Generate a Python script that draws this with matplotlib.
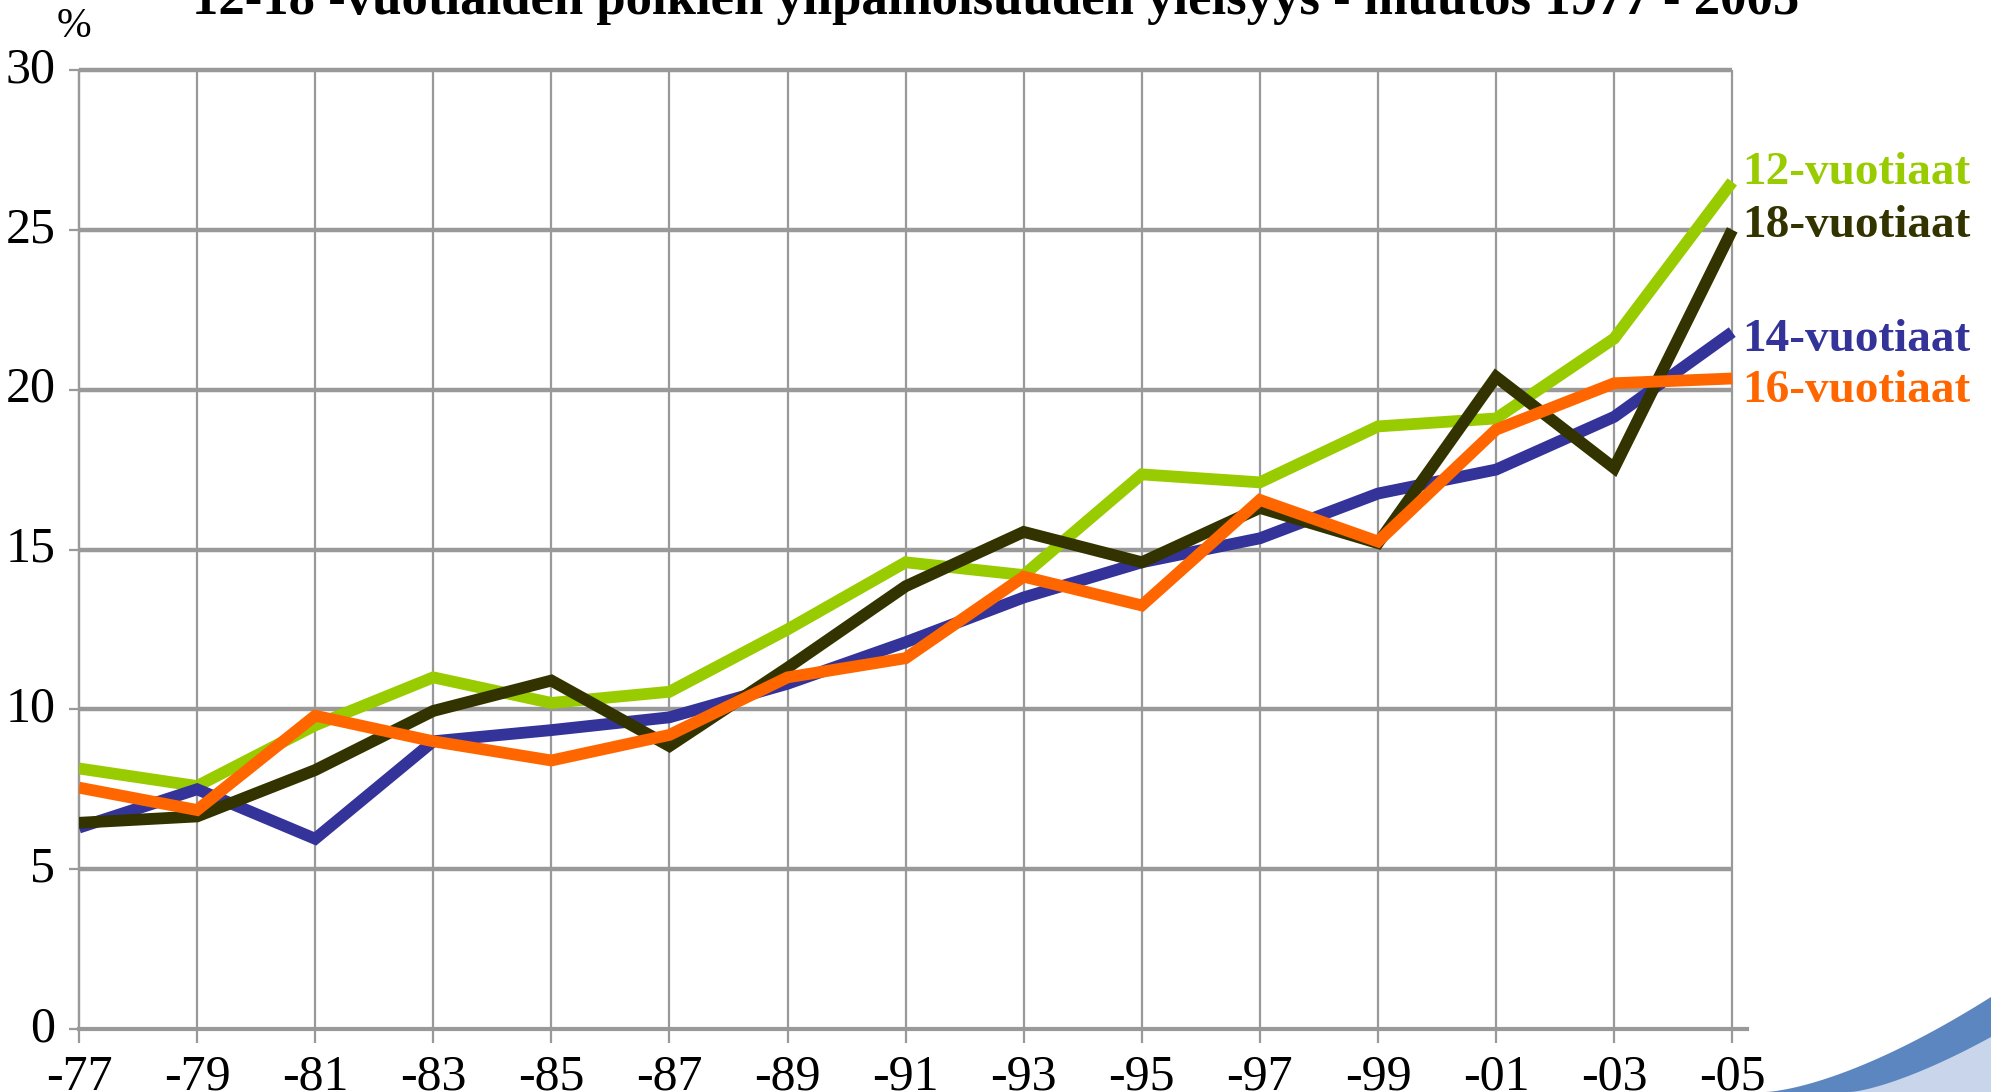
import numpy as np
import matplotlib
matplotlib.use("Agg")
import matplotlib.pyplot as plt
from matplotlib.patches import Polygon

years = [1977, 1979, 1981, 1983, 1985, 1987, 1989, 1991, 1993, 1995, 1997, 1999, 2001, 2003, 2005]
year_labels = ["-77", "-79", "-81", "-83", "-85", "-87", "-89", "-91", "-93", "-95", "-97", "-99", "-01", "-03", "-05"]

v12 = [8.15, 7.6, 9.5, 11.0, 10.2, 10.55, 12.5, 14.6, 14.2, 17.35, 17.1, 18.85, 19.1, 21.6, 26.5]
v14 = [6.3, 7.5, 5.95, 9.0, 9.35, 9.75, 10.8, 12.1, 13.5, 14.6, 15.35, 16.75, 17.5, 19.15, 21.8]
v16 = [7.55, 6.85, 9.8, 9.0, 8.4, 9.2, 11.0, 11.6, 14.15, 13.25, 16.55, 15.25, 18.75, 20.2, 20.35]
v18 = [6.45, 6.65, 8.1, 9.95, 10.9, 8.85, 11.3, 13.85, 15.55, 14.6, 16.3, 15.2, 20.4, 17.55, 25.0]

series_names = ["12-vuotiaat", "18-vuotiaat", "14-vuotiaat", "16-vuotiaat"]
yticks = [0, 5, 10, 15, 20, 25, 30]
title = "12-18 -vuotiaiden poikien ylipainoisuuden yleisyys - muutos 1977 - 2005"

c12, c14, c16, c18 = "#99cc00", "#333399", "#ff6600", "#333300"
grid_c = "#999999"
serif = ["Liberation Serif", "DejaVu Serif"]

W, H = 1991, 1092
fig = plt.figure(figsize=(W / 100, H / 100), dpi=100)
fig.patch.set_facecolor("white")

left_px, right_px, top_px, bot_px = 79, 1747, 70, 1029
ax = fig.add_axes([left_px / W, 1 - bot_px / H, (right_px - left_px) / W, (bot_px - top_px) / H])
ax.set_xlim(years[0], years[-1] + 0.25)
ax.set_ylim(yticks[0], yticks[-1])

# grid
ax.hlines(yticks[1:], years[0], years[-1], color=grid_c, lw=3.2, zorder=1, clip_on=False)
ax.vlines(years, yticks[0], yticks[-1], color=grid_c, lw=1.6, zorder=1, clip_on=False)

# lines (draw order: green, blue, dark, orange)
lw = 8.5
kw = dict(lw=lw, solid_joinstyle="miter", solid_capstyle="butt")
ax.plot(years, v12, color=c12, zorder=3, **kw)
ax.plot(years, v14, color=c14, zorder=4, **kw)
ax.plot(years, v18, color=c18, zorder=5, **kw)
ax.plot(years, v16, color=c16, zorder=6, **kw)

for s in ["top", "right"]:
    ax.spines[s].set_visible(False)
ax.spines["left"].set_color(grid_c)
ax.spines["left"].set_linewidth(1.6)
ax.spines["bottom"].set_color(grid_c)
ax.spines["bottom"].set_linewidth(3)

ax.set_xticks(years)
ax.set_xticklabels(year_labels)
ax.set_yticks(yticks)
ax.set_yticklabels([str(t) for t in yticks])
ax.tick_params(axis="x", length=10, width=1.6, color=grid_c, pad=8)
ax.tick_params(axis="y", length=7, width=1.6, color=grid_c, pad=10)
for lab in ax.get_xticklabels() + ax.get_yticklabels():
    lab.set_fontfamily(serif)
    lab.set_fontsize(36)
    lab.set_color("black")
for lab in ax.get_yticklabels():
    lab.set_verticalalignment("center")

# % unit
fig.text(74 / W, 1 - 27 / H, "%", fontsize=30, family=serif, ha="center", va="center")

# title (cut at top like the reference)
fig.text(0.50, 1 - 14 / H, title, fontsize=38, family=serif, weight="bold",
         ha="center", va="baseline")

# series labels
label_y = [173, 226, 340, 391]
label_c = [c12, c18, c14, c16]
for name, yy, cc in zip(series_names, label_y, label_c):
    fig.text(1742 / W, 1 - yy / H, name, fontsize=34, family=serif, weight="bold",
             color=cc, ha="left", va="center")

# decorative swoosh in bottom-right corner
t = np.linspace(0, 1, 60)
x_outer = 1765 + (W - 1765) * t
y_outer = 1092 - 95 * t ** 1.5
poly1 = np.column_stack([np.r_[x_outer, W], np.r_[y_outer, H]])
fig.patches.append(Polygon(np.column_stack([poly1[:, 0] / W, 1 - poly1[:, 1] / H]),
                           closed=True, transform=fig.transFigure, facecolor="#5b86c0",
                           edgecolor="none", zorder=0))
x_in = 1850 + (W - 1850) * t
y_in = 1092 - 55 * t ** 1.4
poly2 = np.column_stack([np.r_[x_in, W], np.r_[y_in, H]])
fig.patches.append(Polygon(np.column_stack([poly2[:, 0] / W, 1 - poly2[:, 1] / H]),
                           closed=True, transform=fig.transFigure, facecolor="#c9d5ea",
                           edgecolor="none", zorder=0))

fig.savefig("out.png", dpi=100, facecolor="white")
